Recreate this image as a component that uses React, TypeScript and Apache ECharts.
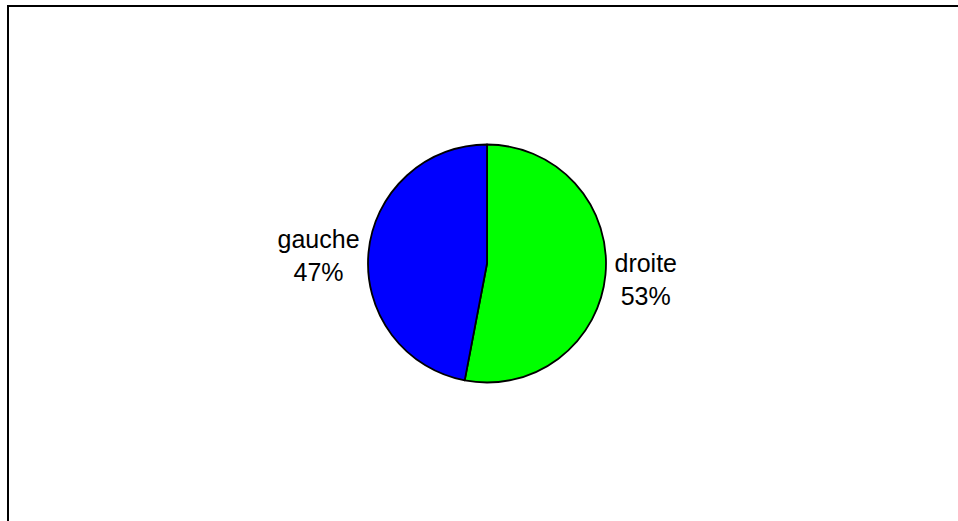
import React, { useEffect, useRef } from "react";
import * as echarts from "echarts";

const categories = ["droite", "gauche"];
const values = [53, 47];
const colors = ["#00FF00", "#0000FF"];
const labelOffsets = [[0, 5], [0, 3]];

export default function App() {
  const ref = useRef<HTMLDivElement>(null);
  useEffect(() => {
    if (!ref.current) return;
    const chart = echarts.init(ref.current, null, { renderer: "svg" });
    chart.setOption({
      animation: false,
      backgroundColor: "#ffffff",
      graphic: [
        {
          type: "rect",
          shape: { x: 8, y: 6, width: 1000, height: 600 },
          style: { fill: "none", stroke: "#000", lineWidth: 2 },
          silent: true,
        },
      ],
      series: [
        {
          type: "pie",
          center: [487, 263.5],
          radius: [0, 119],
          startAngle: 90,
          clockwise: true,
          avoidLabelOverlap: false,
          percentPrecision: 0,
          itemStyle: { borderColor: "#000", borderWidth: 1.8 },
          labelLine: { show: false, length: 0, length2: 0 },
          label: {
            show: true,
            position: "outside",
            distanceToLabelLine: 9,
            formatter: "{c|{b}}\n{c|{d}%}",
            rich: {
              c: {
                align: "center",
                fontFamily: "Liberation Sans, Arial, sans-serif",
                fontSize: 25,
                lineHeight: 33,
                color: "#000",
              },
            },
          },
          data: categories.map((name, i) => ({
            name,
            value: values[i],
            itemStyle: { color: colors[i] },
            label: { offset: labelOffsets[i] },
          })),
        },
      ],
    });
    return () => chart.dispose();
  }, []);
  return (
    <div
      ref={ref}
      style={{ position: "fixed", left: 0, top: 0, width: 958, height: 521, background: "#fff" }}
    />
  );
}
